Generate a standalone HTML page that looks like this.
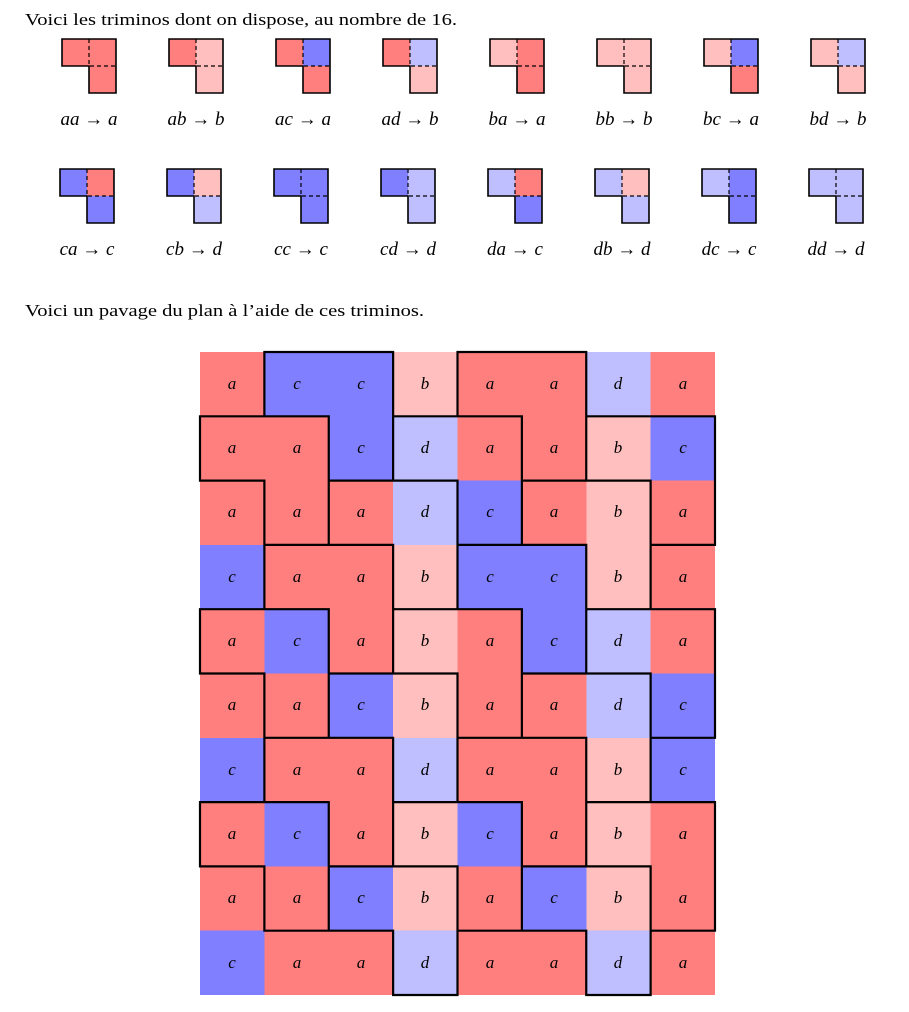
<!DOCTYPE html>
<html><head><meta charset="utf-8"><style>
html,body{margin:0;padding:0;background:#fff;}
svg{display:block;}
.A{fill:#ff7f7f}.B{fill:#ffbfbf}.C{fill:#7f7fff}.D{fill:#bfbfff}
.t{font-family:"Liberation Serif",serif;font-size:17px;fill:#000}
.m{font-family:"Liberation Serif",serif;font-style:italic;font-size:17px;fill:#000;text-anchor:middle}
.l{font-family:"Liberation Serif",serif;font-style:italic;font-size:19px;fill:#000;text-anchor:middle}
.o{fill:none;stroke:#000;stroke-width:1.6}
.dd{fill:none;stroke:#000;stroke-width:1.2;stroke-dasharray:4 3}
.g{fill:none;stroke:#000;stroke-width:2.2;stroke-linejoin:miter}
</style></head><body>
<svg width="909" height="1012" viewBox="0 0 909 1012" xmlns="http://www.w3.org/2000/svg">
<text class="t" x="25" y="25" textLength="432" lengthAdjust="spacingAndGlyphs">Voici les triminos dont on dispose, au nombre de 16.</text>
<text class="t" x="25" y="316" textLength="399" lengthAdjust="spacingAndGlyphs">Voici un pavage du plan à l’aide de ces triminos.</text>

<g transform="translate(89,39)"><rect class="A" x="-27" y="0" width="27" height="27"/><rect class="A" x="0" y="0" width="27" height="54"/><path class="dd" d="M0 0V27H27"/><path class="o" d="M-27 0H27V54H0V27H-27Z"/></g>
<g transform="translate(196,39)"><rect class="A" x="-27" y="0" width="27" height="27"/><rect class="B" x="0" y="0" width="27" height="54"/><path class="dd" d="M0 0V27H27"/><path class="o" d="M-27 0H27V54H0V27H-27Z"/></g>
<g transform="translate(303,39)"><rect class="A" x="-27" y="0" width="27" height="27"/><rect class="C" x="0" y="0" width="27" height="27"/><rect class="A" x="0" y="27" width="27" height="27"/><path class="dd" d="M0 0V27H27"/><path class="o" d="M-27 0H27V54H0V27H-27Z"/></g>
<g transform="translate(410,39)"><rect class="A" x="-27" y="0" width="27" height="27"/><rect class="D" x="0" y="0" width="27" height="27"/><rect class="B" x="0" y="27" width="27" height="27"/><path class="dd" d="M0 0V27H27"/><path class="o" d="M-27 0H27V54H0V27H-27Z"/></g>
<g transform="translate(517,39)"><rect class="B" x="-27" y="0" width="27" height="27"/><rect class="A" x="0" y="0" width="27" height="54"/><path class="dd" d="M0 0V27H27"/><path class="o" d="M-27 0H27V54H0V27H-27Z"/></g>
<g transform="translate(624,39)"><rect class="B" x="-27" y="0" width="27" height="27"/><rect class="B" x="0" y="0" width="27" height="54"/><path class="dd" d="M0 0V27H27"/><path class="o" d="M-27 0H27V54H0V27H-27Z"/></g>
<g transform="translate(731,39)"><rect class="B" x="-27" y="0" width="27" height="27"/><rect class="C" x="0" y="0" width="27" height="27"/><rect class="A" x="0" y="27" width="27" height="27"/><path class="dd" d="M0 0V27H27"/><path class="o" d="M-27 0H27V54H0V27H-27Z"/></g>
<g transform="translate(838,39)"><rect class="B" x="-27" y="0" width="27" height="27"/><rect class="D" x="0" y="0" width="27" height="27"/><rect class="B" x="0" y="27" width="27" height="27"/><path class="dd" d="M0 0V27H27"/><path class="o" d="M-27 0H27V54H0V27H-27Z"/></g>
<g transform="translate(87,169)"><rect class="C" x="-27" y="0" width="27" height="27"/><rect class="A" x="0" y="0" width="27" height="27"/><rect class="C" x="0" y="27" width="27" height="27"/><path class="dd" d="M0 0V27H27"/><path class="o" d="M-27 0H27V54H0V27H-27Z"/></g>
<g transform="translate(194,169)"><rect class="C" x="-27" y="0" width="27" height="27"/><rect class="B" x="0" y="0" width="27" height="27"/><rect class="D" x="0" y="27" width="27" height="27"/><path class="dd" d="M0 0V27H27"/><path class="o" d="M-27 0H27V54H0V27H-27Z"/></g>
<g transform="translate(301,169)"><rect class="C" x="-27" y="0" width="27" height="27"/><rect class="C" x="0" y="0" width="27" height="54"/><path class="dd" d="M0 0V27H27"/><path class="o" d="M-27 0H27V54H0V27H-27Z"/></g>
<g transform="translate(408,169)"><rect class="C" x="-27" y="0" width="27" height="27"/><rect class="D" x="0" y="0" width="27" height="54"/><path class="dd" d="M0 0V27H27"/><path class="o" d="M-27 0H27V54H0V27H-27Z"/></g>
<g transform="translate(515,169)"><rect class="D" x="-27" y="0" width="27" height="27"/><rect class="A" x="0" y="0" width="27" height="27"/><rect class="C" x="0" y="27" width="27" height="27"/><path class="dd" d="M0 0V27H27"/><path class="o" d="M-27 0H27V54H0V27H-27Z"/></g>
<g transform="translate(622,169)"><rect class="D" x="-27" y="0" width="27" height="27"/><rect class="B" x="0" y="0" width="27" height="27"/><rect class="D" x="0" y="27" width="27" height="27"/><path class="dd" d="M0 0V27H27"/><path class="o" d="M-27 0H27V54H0V27H-27Z"/></g>
<g transform="translate(729,169)"><rect class="D" x="-27" y="0" width="27" height="27"/><rect class="C" x="0" y="0" width="27" height="54"/><path class="dd" d="M0 0V27H27"/><path class="o" d="M-27 0H27V54H0V27H-27Z"/></g>
<g transform="translate(836,169)"><rect class="D" x="-27" y="0" width="27" height="27"/><rect class="D" x="0" y="0" width="27" height="54"/><path class="dd" d="M0 0V27H27"/><path class="o" d="M-27 0H27V54H0V27H-27Z"/></g>

<text class="l" x="89" y="125">aa → a</text>
<text class="l" x="196" y="125">ab → b</text>
<text class="l" x="303" y="125">ac → a</text>
<text class="l" x="410" y="125">ad → b</text>
<text class="l" x="517" y="125">ba → a</text>
<text class="l" x="624" y="125">bb → b</text>
<text class="l" x="731" y="125">bc → a</text>
<text class="l" x="838" y="125">bd → b</text>
<text class="l" x="87" y="255">ca → c</text>
<text class="l" x="194" y="255">cb → d</text>
<text class="l" x="301" y="255">cc → c</text>
<text class="l" x="408" y="255">cd → d</text>
<text class="l" x="515" y="255">da → c</text>
<text class="l" x="622" y="255">db → d</text>
<text class="l" x="729" y="255">dc → c</text>
<text class="l" x="836" y="255">dd → d</text>

<g transform="translate(200,352) scale(64.375,64.3)" shape-rendering="crispEdges">
<rect class="A" x="0" y="0" width="8" height="10"/>
<rect class="C" x="1" y="0" width="2" height="1"/><rect class="B" x="3" y="0" width="1" height="1"/><rect class="D" x="6" y="0" width="1" height="1"/>
<rect class="C" x="2" y="1" width="1" height="1"/><rect class="D" x="3" y="1" width="1" height="1"/><rect class="B" x="6" y="1" width="1" height="1"/><rect class="C" x="7" y="1" width="1" height="1"/>
<rect class="D" x="3" y="2" width="1" height="1"/><rect class="C" x="4" y="2" width="1" height="1"/><rect class="B" x="6" y="2" width="1" height="1"/>
<rect class="C" x="0" y="3" width="1" height="1"/><rect class="B" x="3" y="3" width="1" height="1"/><rect class="C" x="4" y="3" width="2" height="1"/><rect class="B" x="6" y="3" width="1" height="1"/>
<rect class="C" x="1" y="4" width="1" height="1"/><rect class="B" x="3" y="4" width="1" height="1"/><rect class="C" x="5" y="4" width="1" height="1"/><rect class="D" x="6" y="4" width="1" height="1"/>
<rect class="C" x="2" y="5" width="1" height="1"/><rect class="B" x="3" y="5" width="1" height="1"/><rect class="D" x="6" y="5" width="1" height="1"/><rect class="C" x="7" y="5" width="1" height="1"/>
<rect class="C" x="0" y="6" width="1" height="1"/><rect class="D" x="3" y="6" width="1" height="1"/><rect class="B" x="6" y="6" width="1" height="1"/><rect class="C" x="7" y="6" width="1" height="1"/>
<rect class="C" x="1" y="7" width="1" height="1"/><rect class="B" x="3" y="7" width="1" height="1"/><rect class="C" x="4" y="7" width="1" height="1"/><rect class="B" x="6" y="7" width="1" height="1"/>
<rect class="C" x="2" y="8" width="1" height="1"/><rect class="B" x="3" y="8" width="1" height="1"/><rect class="C" x="5" y="8" width="1" height="1"/><rect class="B" x="6" y="8" width="1" height="1"/>
<rect class="C" x="0" y="9" width="1" height="1"/><rect class="D" x="3" y="9" width="1" height="1"/><rect class="D" x="6" y="9" width="1" height="1"/>
</g>
<g transform="translate(200,352) scale(64.375,64.3)">
<path class="g" vector-effect="non-scaling-stroke" d="
M1 0h2v2h-1v-1h-1z M4 0h2v2h-1v-1h-1z
M0 1h2v2h-1v-1h-1z M3 1h2v2h-1v-1h-1z M6 1h2v2h-1v-1h-1z
M2 2h2v2h-1v-1h-1z M5 2h2v2h-1v-1h-1z
M1 3h2v2h-1v-1h-1z M4 3h2v2h-1v-1h-1z
M0 4h2v2h-1v-1h-1z M3 4h2v2h-1v-1h-1z M6 4h2v2h-1v-1h-1z
M2 5h2v2h-1v-1h-1z M5 5h2v2h-1v-1h-1z
M1 6h2v2h-1v-1h-1z M4 6h2v2h-1v-1h-1z
M0 7h2v2h-1v-1h-1z M3 7h2v2h-1v-1h-1z M6 7h2v2h-1v-1h-1z
M2 8h2v2h-1v-1h-1z M5 8h2v2h-1v-1h-1z"/>
</g>
<text class="m" x="232 297 361 425 490 554 618 683" y="389">accbaada</text>
<text class="m" x="232 297 361 425 490 554 618 683" y="453">aacdaabc</text>
<text class="m" x="232 297 361 425 490 554 618 683" y="517">aaadcaba</text>
<text class="m" x="232 297 361 425 490 554 618 683" y="582">caabccba</text>
<text class="m" x="232 297 361 425 490 554 618 683" y="646">acabacda</text>
<text class="m" x="232 297 361 425 490 554 618 683" y="710">aacbaadc</text>
<text class="m" x="232 297 361 425 490 554 618 683" y="775">caadaabc</text>
<text class="m" x="232 297 361 425 490 554 618 683" y="839">acabcaba</text>
<text class="m" x="232 297 361 425 490 554 618 683" y="903">aacbacba</text>
<text class="m" x="232 297 361 425 490 554 618 683" y="968">caadaada</text>
</svg>
</body></html>
